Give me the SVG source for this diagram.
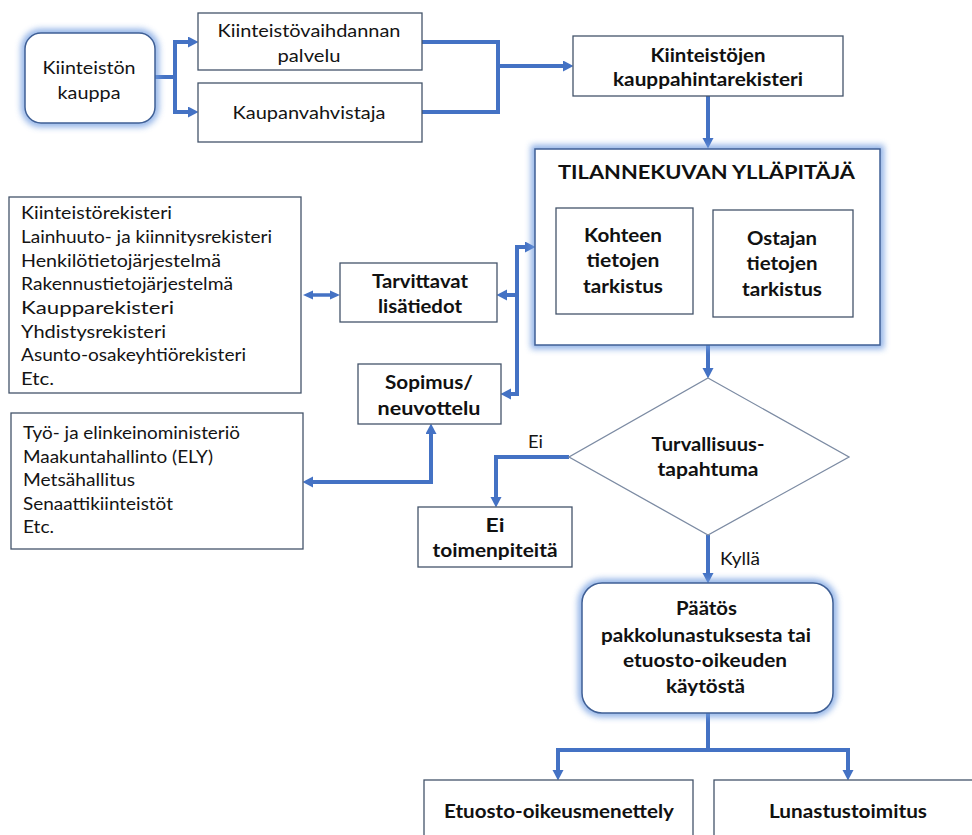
<svg xmlns="http://www.w3.org/2000/svg" width="972" height="835" viewBox="0 0 972 835">
<defs>
<style>
.bx{fill:#fff;stroke:#44546a;stroke-width:1.3}
.gl{fill:none;stroke:#6f9be0;stroke-width:8;opacity:.8;filter:url(#blur)}
.gb{fill:#fff;stroke:#3f5f95;stroke-width:1.5}
.dm{fill:#fff;stroke:#7c8ba3;stroke-width:1.3}
.c{fill:none;stroke:#4472c4;stroke-width:4}
.ar{marker-end:url(#ah)}
.t{font-family:Lato,"Liberation Sans",sans-serif;font-size:17px;fill:#141414}
.l{font-family:Lato,"Liberation Sans",sans-serif;font-size:16.5px;fill:#141414}
.b{font-family:Lato,"Liberation Sans",sans-serif;font-size:18px;font-weight:bold;fill:#111;text-anchor:middle}
.m{text-anchor:middle}
</style>
<filter id="blur" x="-20%" y="-20%" width="140%" height="140%"><feGaussianBlur stdDeviation="3.2"/></filter>
<marker id="ah" markerUnits="userSpaceOnUse" markerWidth="12" markerHeight="12" refX="3" refY="5.5" orient="auto-start-reverse"><path d="M0,0 L10.5,5.5 L0,11 z" fill="#4472c4"/></marker>
<marker id="as" markerUnits="userSpaceOnUse" markerWidth="12" markerHeight="12" refX="3" refY="5" orient="auto-start-reverse"><path d="M0,0.5 L10,5 L0,9.5 z" fill="#4472c4"/></marker>
</defs>
<rect width="972" height="835" fill="#fff"/>

<g id="connectors">
<path class="c ar" d="M155,77 H175 V42 H191"/>
<path class="c ar" d="M175,77 V112 H191"/>
<path class="c" d="M422,42 H498 V112 H422"/>
<path class="c ar" d="M498,66 H566"/>
<path class="c ar" d="M708,96 V141"/>
<path class="c ar" d="M708,345 V371"/>
<path class="c" style="marker-start:url(#ah);marker-end:url(#ah)" d="M508,394 H517 V247 H528"/>
<path class="c ar" d="M517,295 H504"/>
<path class="c" style="stroke-width:3.5;marker-start:url(#as);marker-end:url(#as)" d="M310,295 H333"/>
<path class="c" style="marker-start:url(#ah);marker-end:url(#ah)" d="M431,431 V482 H310"/>
<path class="c ar" d="M569,457 H496 V500"/>
<path class="c ar" d="M708,535 V576"/>
<path class="c ar" d="M708,713 V750 H558 V773"/>
<path class="c ar" d="M708,750 H848 V773"/>
</g>

<g id="kauppa">
<rect class="gl" x="25" y="33" width="130" height="90" rx="16"/>
<rect class="gb" x="25" y="33" width="130" height="90" rx="16"/>
<text class="t m" x="89" y="74" font-size="18" textLength="93" lengthAdjust="spacingAndGlyphs">Kiinteistön</text>
<text class="t m" x="89" y="99" font-size="18" textLength="63" lengthAdjust="spacingAndGlyphs">kauppa</text>
</g>

<g id="palvelu">
<rect class="bx" x="198" y="13" width="224" height="57"/>
<text class="t m" x="309" y="37" font-size="18" textLength="183" lengthAdjust="spacingAndGlyphs">Kiinteistövaihdannan</text>
<text class="t m" x="309" y="62" font-size="18" textLength="63" lengthAdjust="spacingAndGlyphs">palvelu</text>
</g>

<g id="kaupanvahvistaja">
<rect class="bx" x="198" y="83" width="224" height="59"/>
<text class="t m" x="309" y="119" font-size="18" textLength="153" lengthAdjust="spacingAndGlyphs">Kaupanvahvistaja</text>
</g>

<g id="kauppahintarekisteri">
<rect class="bx" x="573" y="36" width="270" height="60"/>
<text class="b" x="708" y="62" textLength="115" lengthAdjust="spacingAndGlyphs">Kiinteistöjen</text>
<text class="b" x="708" y="86" textLength="190" lengthAdjust="spacingAndGlyphs">kauppahintarekisteri</text>
</g>

<g id="tilannekuva">
<rect class="gl" x="535" y="149" width="345" height="196"/>
<rect class="gb" x="535" y="149" width="345" height="196"/>
<text class="b" x="706.5" y="179" font-size="22" textLength="297" lengthAdjust="spacingAndGlyphs">TILANNEKUVAN YLLÄPITÄJÄ</text>
</g>

<g id="kohteen">
<rect class="bx" x="556" y="208" width="137" height="106"/>
<text class="b" x="623" y="242" textLength="78" lengthAdjust="spacingAndGlyphs">Kohteen</text>
<text class="b" x="623" y="267" textLength="73" lengthAdjust="spacingAndGlyphs">tietojen</text>
<text class="b" x="623" y="293" textLength="80" lengthAdjust="spacingAndGlyphs">tarkistus</text>
</g>

<g id="ostajan">
<rect class="bx" x="713" y="210" width="140" height="107"/>
<text class="b" x="782" y="245" textLength="70" lengthAdjust="spacingAndGlyphs">Ostajan</text>
<text class="b" x="782" y="270" textLength="71" lengthAdjust="spacingAndGlyphs">tietojen</text>
<text class="b" x="782" y="296" textLength="80" lengthAdjust="spacingAndGlyphs">tarkistus</text>
</g>

<g id="rekisterit">
<rect class="bx" x="9" y="197" width="292" height="196"/>
<text class="l" x="21" y="219" textLength="151" lengthAdjust="spacingAndGlyphs">Kiinteistörekisteri</text>
<text class="l" x="21" y="243" textLength="251" lengthAdjust="spacingAndGlyphs">Lainhuuto- ja kiinnitysrekisteri</text>
<text class="l" x="21" y="266.5" textLength="200" lengthAdjust="spacingAndGlyphs">Henkilötietojärjestelmä</text>
<text class="l" x="21" y="290" textLength="212" lengthAdjust="spacingAndGlyphs">Rakennustietojärjestelmä</text>
<text class="l" x="21" y="314" textLength="153" lengthAdjust="spacingAndGlyphs">Kaupparekisteri</text>
<text class="l" x="21" y="337.5" textLength="145" lengthAdjust="spacingAndGlyphs">Yhdistysrekisteri</text>
<text class="l" x="21" y="361" textLength="225" lengthAdjust="spacingAndGlyphs">Asunto-osakeyhtiörekisteri</text>
<text class="l" x="21" y="385" textLength="33" lengthAdjust="spacingAndGlyphs">Etc.</text>
</g>

<g id="lisatiedot">
<rect class="bx" x="340" y="263" width="157" height="59"/>
<text class="b" x="420" y="288" textLength="96" lengthAdjust="spacingAndGlyphs">Tarvittavat</text>
<text class="b" x="420" y="313" textLength="84" lengthAdjust="spacingAndGlyphs">lisätiedot</text>
</g>

<g id="sopimus">
<rect class="bx" x="358" y="364" width="143" height="60"/>
<text class="b" x="429" y="389" textLength="88" lengthAdjust="spacingAndGlyphs">Sopimus/</text>
<text class="b" x="429" y="415" textLength="103" lengthAdjust="spacingAndGlyphs">neuvottelu</text>
</g>

<g id="viranomaiset">
<rect class="bx" x="11" y="413" width="292" height="136"/>
<text class="l" x="23" y="439" textLength="217" lengthAdjust="spacingAndGlyphs">Työ- ja elinkeinoministeriö</text>
<text class="l" x="23" y="462.5" textLength="190" lengthAdjust="spacingAndGlyphs">Maakuntahallinto (ELY)</text>
<text class="l" x="23" y="486" textLength="112" lengthAdjust="spacingAndGlyphs">Metsähallitus</text>
<text class="l" x="23" y="509.5" textLength="150" lengthAdjust="spacingAndGlyphs">Senaattikiinteistöt</text>
<text class="l" x="23" y="533" textLength="31" lengthAdjust="spacingAndGlyphs">Etc.</text>
</g>

<g id="turvallisuus">
<polygon class="dm" points="708,378 849,457 708,535 569,457"/>
<text class="b" x="708" y="451" textLength="113" lengthAdjust="spacingAndGlyphs">Turvallisuus-</text>
<text class="b" x="708" y="476" textLength="101" lengthAdjust="spacingAndGlyphs">tapahtuma</text>
<text class="t" x="528" y="448" textLength="15" lengthAdjust="spacingAndGlyphs">Ei</text>
<text class="t" x="720" y="565" textLength="40" lengthAdjust="spacingAndGlyphs">Kyllä</text>
</g>

<g id="ei-toimenpiteita">
<rect class="bx" x="418" y="507" width="154" height="60"/>
<text class="b" x="495" y="532" textLength="19" lengthAdjust="spacingAndGlyphs">Ei</text>
<text class="b" x="495" y="557" textLength="125" lengthAdjust="spacingAndGlyphs">toimenpiteitä</text>
</g>

<g id="paatos">
<rect class="gl" x="582" y="583" width="251" height="130" rx="20"/>
<rect class="gb" x="582" y="583" width="251" height="130" rx="20"/>
<text class="b" x="706.5" y="615" textLength="61" lengthAdjust="spacingAndGlyphs">Päätös</text>
<text class="b" x="706" y="641.5" textLength="210" lengthAdjust="spacingAndGlyphs">pakkolunastuksesta tai</text>
<text class="b" x="705" y="667" textLength="164" lengthAdjust="spacingAndGlyphs">etuosto-oikeuden</text>
<text class="b" x="705.5" y="693" textLength="79" lengthAdjust="spacingAndGlyphs">käytöstä</text>
</g>

<g id="etuosto">
<rect class="bx" x="424" y="780" width="269" height="70"/>
<text class="b" x="559" y="818" textLength="230" lengthAdjust="spacingAndGlyphs">Etuosto-oikeusmenettely</text>
</g>

<g id="lunastus">
<rect class="bx" x="714" y="780" width="268" height="70"/>
<text class="b" x="848" y="818" textLength="158" lengthAdjust="spacingAndGlyphs">Lunastustoimitus</text>
</g>
</svg>
